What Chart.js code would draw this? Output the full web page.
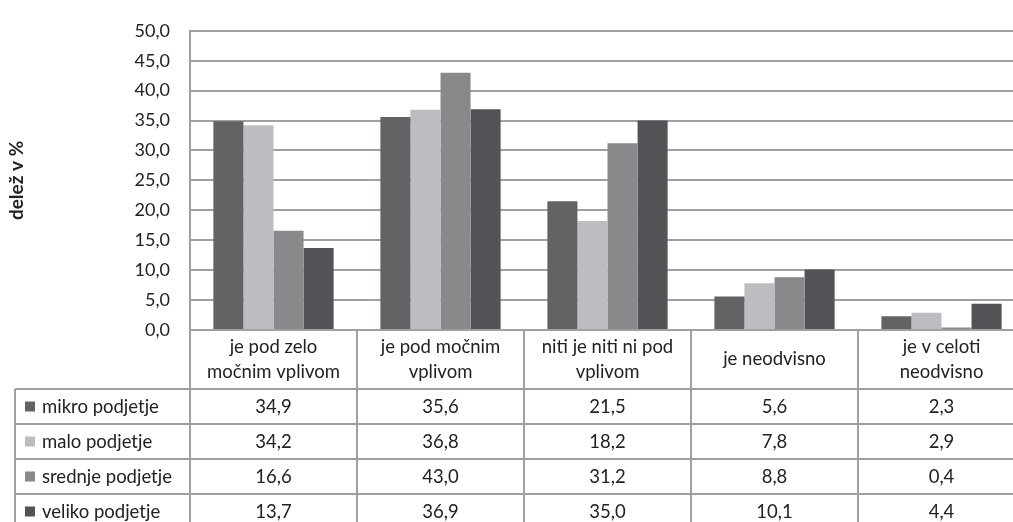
<!DOCTYPE html>
<html>
<head>
<meta charset="utf-8">
<script src="https://cdn.jsdelivr.net/npm/chart.js@4.4.1/dist/chart.umd.min.js"></script>
<style>
  html, body { margin: 0; padding: 0; background: #fff; overflow: hidden; }
  #wrap { width: 1050px; height: 540px; }
</style>
</head>
<body>
<div id="wrap"><canvas id="c" width="1050" height="540"></canvas></div>
<script>
// data
const categories = [
  ['je pod zelo', 'močnim vplivom'],
  ['je pod močnim', 'vplivom'],
  ['niti je niti ni pod', 'vplivom'],
  ['je neodvisno'],
  ['je v celoti', 'neodvisno']
];
const seriesNames = ['mikro podjetje', 'malo podjetje', 'srednje podjetje', 'veliko podjetje'];
const mikro = [34.9, 35.6, 21.5, 5.6, 2.3];
const malo = [34.2, 36.8, 18.2, 7.8, 2.9];
const srednje = [16.6, 43.0, 31.2, 8.8, 0.4];
const veliko = [13.7, 36.9, 35.0, 10.1, 4.4];
const yTicks = [0, 5, 10, 15, 20, 25, 30, 35, 40, 45, 50];
const yTitle = 'delež v %';

const colors = ['#646265', '#bdbdc1', '#89898b', '#545256'];
const FONT = 'Lato, "Open Sans", sans-serif';
const TXT = '#222222';
const LINE = '#a0a0a0';

const fmt = v => v.toFixed(1).replace('.', ',');

// data table under the plot, drawn from the same arrays
const tablePlugin = {
  id: 'dataTable',
  afterDraw(chart) {
    const ctx = chart.ctx;
    const x = chart.scales.x;
    const area = chart.chartArea;
    const colW = x.width / categories.length;
    const headH = 59, rowH = 35, legLeft = 15;
    const top = area.bottom;
    const series = chart.data.datasets;

    ctx.save();
    ctx.strokeStyle = LINE;
    ctx.lineWidth = 2;
    ctx.fillStyle = TXT;
    ctx.font = '18.5px ' + FONT;
    ctx.textAlign = 'center';
    ctx.textBaseline = 'middle';

    const bottom = top + headH + rowH * series.length;
    // vertical lines
    for (let i = 0; i <= categories.length; i++) {
      const px = area.left + i * colW;
      ctx.beginPath();
      ctx.moveTo(px, top);
      ctx.lineTo(px, bottom);
      ctx.stroke();
    }
    ctx.beginPath();
    ctx.moveTo(legLeft, top + headH);
    ctx.lineTo(legLeft, bottom);
    ctx.stroke();
    // horizontal lines
    ctx.beginPath();
    ctx.moveTo(area.left, top);
    ctx.lineTo(area.left + colW * categories.length, top);
    ctx.stroke();
    for (let r = 0; r <= series.length; r++) {
      const py = top + headH + r * rowH;
      ctx.beginPath();
      ctx.moveTo(legLeft, py);
      ctx.lineTo(area.left + colW * categories.length, py);
      ctx.stroke();
    }

    // header
    categories.forEach((lines, i) => {
      const cx = x.getPixelForValue(i);
      const cy = top + headH / 2;
      lines.forEach((t, k) => {
        ctx.fillText(t, cx, cy + (k - (lines.length - 1) / 2) * 25);
      });
    });

    // rows
    series.forEach((ds, r) => {
      const cy = top + headH + r * rowH + rowH / 2 + 1;
      ctx.fillStyle = ds.backgroundColor;
      ctx.fillRect(legLeft + 10, cy - 6, 10, 10);
      ctx.fillStyle = TXT;
      ctx.textAlign = 'left';
      ctx.fillText(ds.label, legLeft + 27, cy);
      ctx.textAlign = 'center';
      ds.data.forEach((v, i) => {
        ctx.fillText(fmt(v), x.getPixelForValue(i), cy);
      });
    });
    ctx.restore();
  }
};

new Chart(document.getElementById('c'), {
  type: 'bar',
  data: {
    labels: categories,
    datasets: [mikro, malo, srednje, veliko].map((d, i) => ({
      label: seriesNames[i],
      data: d,
      backgroundColor: colors[i],
      borderWidth: 0,
      barPercentage: 1,
      categoryPercentage: 0.72
    }))
  },
  options: {
    responsive: false,
    animation: false,
    layout: { padding: { top: 24, right: 25, bottom: 210, left: 0 } },
    plugins: { legend: { display: false }, tooltip: { enabled: false } },
    scales: {
      x: { display: false },
      y: {
        min: 0,
        max: 50,
        afterFit: s => { s.width = 190; },
        afterBuildTicks: s => { s.ticks = yTicks.map(v => ({ value: v })); },
        ticks: {
          padding: 20,
          color: TXT,
          font: { family: FONT, size: 18 },
          callback: v => fmt(v)
        },
        grid: { color: LINE, lineWidth: 2, drawTicks: false },
        border: { color: LINE, width: 2 },
        title: {
          display: true,
          text: yTitle,
          color: TXT,
          font: { family: FONT, size: 19, weight: 'bold' },
          padding: { top: 5, bottom: 0 }
        }
      }
    }
  },
  plugins: [tablePlugin]
});
</script>
</body>
</html>
